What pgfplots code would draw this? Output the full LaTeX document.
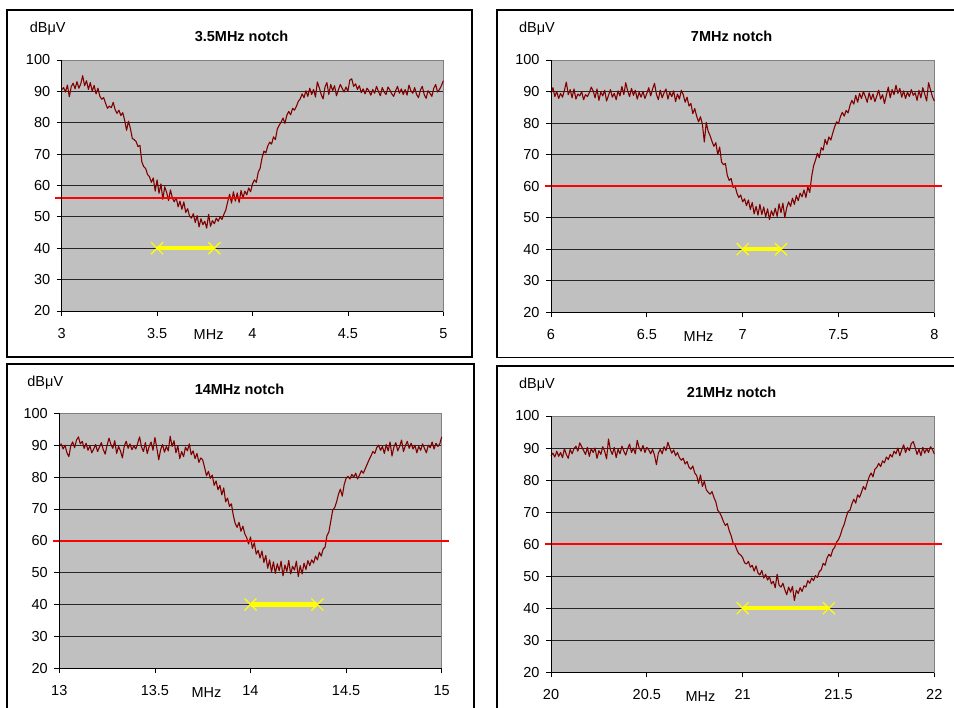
\documentclass[border=0pt]{standalone}
\usepackage{fontspec}
\setmainfont{Liberation Sans}
\usepackage{pgfplots}
\pgfplotsset{compat=1.18}
\usepackage{pgfplotstable}

\definecolor{plotgray}{HTML}{C0C0C0}
\definecolor{boxgray}{HTML}{808080}
\definecolor{maroon}{HTML}{800000}
\definecolor{notchred}{HTML}{FF0000}
\definecolor{bwyellow}{HTML}{FFFF00}

\newcommand{\lbl}{\fontsize{14.5}{17}\selectfont}

% spectrum analyser readings, MHz / dBuV
\pgfplotstableread{
x y
3.00 90.5
3.01 91.2
3.02 89.8
3.03 92.0
3.04 88.3
3.05 91.5
3.06 92.6
3.07 90.8
3.08 93.1
3.09 91.0
3.10 92.4
3.11 95.0
3.12 91.8
3.13 93.4
3.14 90.6
3.15 92.8
3.16 90.0
3.17 91.9
3.18 89.2
3.19 91.0
3.20 88.4
3.21 87.5
3.22 88.0
3.23 86.2
3.24 84.6
3.25 85.3
3.26 84.8
3.27 86.5
3.28 84.2
3.29 83.0
3.30 84.0
3.31 82.3
3.32 83.2
3.33 80.8
3.34 77.6
3.35 80.5
3.36 78.2
3.37 75.0
3.38 74.6
3.39 74.0
3.40 72.4
3.41 72.8
3.42 67.5
3.43 66.0
3.44 65.4
3.45 63.5
3.46 62.8
3.47 61.0
3.48 62.4
3.49 58.2
3.50 61.8
3.51 57.5
3.52 60.5
3.53 55.6
3.54 59.6
3.55 57.8
3.56 55.2
3.57 58.6
3.58 56.0
3.59 54.8
3.60 56.2
3.61 53.2
3.62 55.0
3.63 52.4
3.64 54.8
3.65 51.4
3.66 52.6
3.67 50.2
3.68 49.6
3.69 51.0
3.70 48.2
3.71 50.4
3.72 46.8
3.73 49.4
3.74 47.5
3.75 48.6
3.76 46.4
3.77 50.8
3.78 47.0
3.79 48.8
3.80 47.8
3.81 49.6
3.82 48.6
3.83 50.0
3.84 49.2
3.85 50.8
3.86 52.2
3.87 54.8
3.88 57.2
3.89 54.4
3.90 58.0
3.91 55.0
3.92 57.6
3.93 54.6
3.94 58.4
3.95 56.0
3.96 58.2
3.97 57.0
3.98 59.2
3.99 58.0
4.00 60.5
4.01 61.8
4.02 61.0
4.03 64.2
4.04 65.5
4.05 68.8
4.06 71.0
4.07 70.4
4.08 72.6
4.09 73.8
4.10 73.2
4.11 75.5
4.12 74.6
4.13 78.0
4.14 79.2
4.15 80.2
4.16 81.5
4.17 79.8
4.18 82.4
4.19 83.6
4.20 82.5
4.21 84.6
4.22 84.0
4.23 85.2
4.24 86.8
4.25 87.6
4.26 89.2
4.27 88.0
4.28 90.2
4.29 88.4
4.30 91.0
4.31 89.0
4.32 90.6
4.33 88.2
4.34 93.0
4.35 91.2
4.36 89.0
4.37 87.6
4.38 91.4
4.39 92.8
4.40 89.0
4.41 92.2
4.42 90.2
4.43 91.8
4.44 88.6
4.45 90.4
4.46 92.2
4.47 91.0
4.48 89.8
4.49 91.4
4.50 90.0
4.51 93.6
4.52 94.0
4.53 91.6
4.54 92.4
4.55 90.6
4.56 91.8
4.57 89.6
4.58 90.8
4.59 89.2
4.60 91.0
4.61 90.2
4.62 88.8
4.63 90.6
4.64 89.4
4.65 91.6
4.66 90.0
4.67 88.6
4.68 91.2
4.69 89.8
4.70 89.0
4.71 91.4
4.72 90.4
4.73 89.2
4.74 88.4
4.75 90.2
4.76 91.6
4.77 89.4
4.78 90.8
4.79 89.0
4.80 90.6
4.81 88.8
4.82 92.0
4.83 90.2
4.84 89.4
4.85 91.2
4.86 89.0
4.87 88.0
4.88 90.4
4.89 91.6
4.90 89.0
4.91 87.8
4.92 90.2
4.93 89.4
4.94 88.4
4.95 91.0
4.96 92.2
4.97 89.8
4.98 90.6
4.99 91.8
5.00 93.4
}\bandA

\pgfplotstableread{
x y
6.00 89.6
6.01 91.2
6.02 88.4
6.03 90.0
6.04 87.8
6.05 89.4
6.06 88.2
6.07 90.4
6.08 93.0
6.09 89.0
6.10 90.6
6.11 88.0
6.12 90.8
6.13 87.6
6.14 89.2
6.15 88.6
6.16 90.0
6.17 87.4
6.18 89.0
6.19 88.4
6.20 89.6
6.21 91.4
6.22 90.2
6.23 88.0
6.24 90.8
6.25 87.2
6.26 89.8
6.27 88.6
6.28 90.4
6.29 87.0
6.30 88.8
6.31 90.6
6.32 88.2
6.33 89.4
6.34 87.4
6.35 90.2
6.36 88.6
6.37 91.6
6.38 89.0
6.39 92.8
6.40 90.2
6.41 88.4
6.42 91.0
6.43 88.8
6.44 90.4
6.45 87.6
6.46 89.8
6.47 88.2
6.48 90.0
6.49 87.8
6.50 89.4
6.51 91.2
6.52 88.6
6.53 90.8
6.54 92.6
6.55 89.2
6.56 87.4
6.57 90.4
6.58 88.0
6.59 89.6
6.60 90.8
6.61 87.6
6.62 89.8
6.63 88.4
6.64 90.2
6.65 86.8
6.66 89.2
6.67 87.6
6.68 90.4
6.69 89.0
6.70 86.6
6.71 88.2
6.72 85.4
6.73 86.2
6.74 83.0
6.75 84.6
6.76 82.2
6.77 80.4
6.78 82.0
6.79 79.6
6.80 74.0
6.81 80.2
6.82 77.4
6.83 76.0
6.84 74.2
6.85 72.6
6.86 73.8
6.87 70.0
6.88 72.4
6.89 67.6
6.90 66.8
6.91 67.2
6.92 63.4
6.93 61.8
6.94 62.4
6.95 59.6
6.96 60.2
6.97 57.8
6.98 56.4
6.99 57.2
7.00 55.0
7.01 56.0
7.02 53.8
7.03 55.6
7.04 52.6
7.05 54.8
7.06 51.2
7.07 53.6
7.08 50.8
7.09 54.2
7.10 51.0
7.11 53.4
7.12 50.2
7.13 52.8
7.14 49.4
7.15 52.2
7.16 50.6
7.17 53.0
7.18 50.4
7.19 54.4
7.20 51.6
7.21 54.6
7.22 50.0
7.23 53.2
7.24 55.0
7.25 53.6
7.26 56.2
7.27 54.2
7.28 57.0
7.29 55.4
7.30 57.8
7.31 56.6
7.32 58.8
7.33 56.4
7.34 59.8
7.35 58.0
7.36 63.0
7.37 66.4
7.38 68.2
7.39 70.4
7.40 69.0
7.41 72.2
7.42 71.4
7.43 74.8
7.44 73.2
7.45 75.6
7.46 74.6
7.47 76.8
7.48 78.8
7.49 80.4
7.50 79.8
7.51 82.0
7.52 83.4
7.53 82.2
7.54 84.0
7.55 83.2
7.56 85.6
7.57 87.2
7.58 86.0
7.59 88.8
7.60 86.6
7.61 89.4
7.62 87.8
7.63 90.0
7.64 88.4
7.65 86.6
7.66 89.6
7.67 87.4
7.68 89.2
7.69 86.8
7.70 88.6
7.71 90.4
7.72 87.6
7.73 89.0
7.74 86.2
7.75 88.8
7.76 91.4
7.77 88.0
7.78 90.6
7.79 89.0
7.80 92.0
7.81 89.4
7.82 91.0
7.83 88.2
7.84 90.2
7.85 87.8
7.86 89.8
7.87 88.4
7.88 90.6
7.89 88.8
7.90 89.6
7.91 87.2
7.92 90.4
7.93 88.0
7.94 91.2
7.95 89.2
7.96 87.0
7.97 92.8
7.98 90.6
7.99 88.4
8.00 87.0
}\bandB

\pgfplotstableread{
x y
13.00 89.6
13.01 90.4
13.02 88.8
13.03 90.0
13.04 87.6
13.05 86.4
13.06 89.8
13.07 91.0
13.08 89.2
13.09 91.6
13.10 92.6
13.11 90.4
13.12 91.2
13.13 89.0
13.14 90.6
13.15 88.4
13.16 89.8
13.17 87.6
13.18 88.8
13.19 90.2
13.20 88.0
13.21 89.4
13.22 90.8
13.23 88.6
13.24 87.2
13.25 90.0
13.26 92.2
13.27 90.2
13.28 89.0
13.29 91.4
13.30 87.4
13.31 89.6
13.32 88.2
13.33 86.0
13.34 89.8
13.35 91.2
13.36 89.0
13.37 90.4
13.38 88.6
13.39 89.8
13.40 88.8
13.41 90.6
13.42 92.6
13.43 89.4
13.44 88.0
13.45 90.8
13.46 87.4
13.47 89.6
13.48 91.0
13.49 88.4
13.50 92.4
13.51 89.2
13.52 85.4
13.53 88.6
13.54 90.2
13.55 87.8
13.56 89.6
13.57 88.2
13.58 92.8
13.59 89.6
13.60 91.4
13.61 87.6
13.62 89.8
13.63 85.8
13.64 88.0
13.65 86.4
13.66 89.4
13.67 88.2
13.68 90.4
13.69 87.0
13.70 88.2
13.71 85.8
13.72 87.4
13.73 84.6
13.74 86.0
13.75 85.4
13.76 83.0
13.77 80.4
13.78 81.8
13.79 79.6
13.80 80.6
13.81 77.4
13.82 78.8
13.83 76.0
13.84 77.4
13.85 74.4
13.86 76.6
13.87 72.2
13.88 73.4
13.89 70.8
13.90 71.6
13.91 68.0
13.92 65.4
13.93 64.2
13.94 65.8
13.95 63.0
13.96 64.6
13.97 62.2
13.98 61.0
13.99 59.0
14.00 61.2
14.01 57.6
14.02 59.4
14.03 55.8
14.04 57.0
14.05 54.6
14.06 56.8
14.07 53.2
14.08 55.4
14.09 51.4
14.10 54.0
14.11 50.2
14.12 53.4
14.13 49.8
14.14 52.8
14.15 50.6
14.16 53.6
14.17 49.0
14.18 52.4
14.19 50.4
14.20 53.8
14.21 49.6
14.22 52.0
14.23 50.8
14.24 53.6
14.25 48.8
14.26 52.2
14.27 49.6
14.28 53.0
14.29 51.0
14.30 53.8
14.31 52.2
14.32 54.0
14.33 53.0
14.34 55.2
14.35 54.0
14.36 56.4
14.37 55.2
14.38 57.4
14.39 58.0
14.40 61.6
14.41 62.8
14.42 66.2
14.43 69.6
14.44 70.4
14.45 72.2
14.46 74.6
14.47 76.2
14.48 74.0
14.49 77.6
14.50 79.6
14.51 80.2
14.52 79.4
14.53 80.8
14.54 80.0
14.55 81.2
14.56 79.4
14.57 80.6
14.58 82.0
14.59 81.2
14.60 82.6
14.61 84.0
14.62 85.4
14.63 86.6
14.64 88.0
14.65 87.4
14.66 89.2
14.67 90.0
14.68 88.4
14.69 89.6
14.70 87.4
14.71 90.2
14.72 88.2
14.73 91.0
14.74 86.6
14.75 89.4
14.76 90.8
14.77 88.2
14.78 89.6
14.79 91.6
14.80 88.0
14.81 89.8
14.82 91.2
14.83 89.0
14.84 90.6
14.85 88.8
14.86 90.0
14.87 87.6
14.88 89.6
14.89 88.4
14.90 90.4
14.91 89.0
14.92 87.6
14.93 90.0
14.94 89.2
14.95 91.0
14.96 88.8
14.97 90.6
14.98 89.6
14.99 90.4
15.00 92.6
}\bandC

\pgfplotstableread{
x y
20.00 87.6
20.01 88.4
20.02 87.2
20.03 89.0
20.04 87.4
20.05 88.6
20.06 87.0
20.07 89.8
20.08 88.0
20.09 86.8
20.10 89.6
20.11 88.2
20.12 89.8
20.13 90.6
20.14 89.0
20.15 91.6
20.16 90.4
20.17 89.2
20.18 88.0
20.19 90.2
20.20 87.4
20.21 89.8
20.22 88.6
20.23 90.0
20.24 86.8
20.25 89.2
20.26 88.0
20.27 90.4
20.28 89.0
20.29 86.6
20.30 92.8
20.31 89.4
20.32 88.0
20.33 90.2
20.34 87.0
20.35 89.6
20.36 88.2
20.37 90.6
20.38 89.0
20.39 87.8
20.40 89.8
20.41 91.2
20.42 88.6
20.43 90.0
20.44 88.2
20.45 92.4
20.46 90.0
20.47 89.0
20.48 90.8
20.49 88.6
20.50 90.2
20.51 89.4
20.52 88.2
20.53 89.6
20.54 87.8
20.55 84.8
20.56 88.4
20.57 89.6
20.58 88.2
20.59 90.4
20.60 89.2
20.61 91.8
20.62 90.0
20.63 88.4
20.64 89.4
20.65 87.6
20.66 88.6
20.67 87.0
20.68 86.2
20.69 86.8
20.70 85.0
20.71 85.8
20.72 84.0
20.73 83.4
20.74 84.4
20.75 82.2
20.76 81.4
20.77 79.0
20.78 81.6
20.79 78.0
20.80 79.6
20.81 77.0
20.82 76.2
20.83 75.6
20.84 76.4
20.85 74.6
20.86 73.2
20.87 70.6
20.88 69.8
20.89 68.6
20.90 67.0
20.91 65.8
20.92 66.4
20.93 64.2
20.94 62.6
20.95 60.4
20.96 59.8
20.97 58.2
20.98 57.0
20.99 56.6
21.00 55.8
21.01 54.2
21.02 53.8
21.03 54.6
21.04 52.8
21.05 53.4
21.06 51.6
21.07 53.2
21.08 51.0
21.09 50.4
21.10 51.8
21.11 49.4
21.12 50.6
21.13 48.8
21.14 49.8
21.15 47.6
21.16 48.4
21.17 46.4
21.18 50.6
21.19 47.2
21.20 46.6
21.21 47.8
21.22 45.8
21.23 44.2
21.24 46.6
21.25 45.0
21.26 46.8
21.27 42.4
21.28 45.6
21.29 44.6
21.30 46.4
21.31 45.2
21.32 47.0
21.33 46.6
21.34 48.6
21.35 47.8
21.36 49.4
21.37 48.6
21.38 50.2
21.39 49.6
21.40 51.4
21.41 52.0
21.42 54.0
21.43 53.4
21.44 55.6
21.45 56.8
21.46 56.2
21.47 58.2
21.48 59.0
21.49 60.6
21.50 61.4
21.51 62.8
21.52 64.8
21.53 66.2
21.54 68.4
21.55 70.2
21.56 70.6
21.57 72.6
21.58 74.0
21.59 72.8
21.60 75.4
21.61 74.6
21.62 76.2
21.63 78.0
21.64 77.0
21.65 79.2
21.66 81.0
21.67 82.2
21.68 81.0
21.69 83.4
21.70 84.0
21.71 85.2
21.72 84.2
21.73 86.0
21.74 85.4
21.75 87.2
21.76 86.4
21.77 88.0
21.78 87.2
21.79 89.0
21.80 88.2
21.81 90.0
21.82 87.6
21.83 89.4
21.84 91.0
21.85 88.6
21.86 90.2
21.87 89.2
21.88 91.4
21.89 92.0
21.90 90.2
21.91 88.0
21.92 89.6
21.93 87.6
21.94 90.2
21.95 88.4
21.96 89.8
21.97 88.6
21.98 90.4
21.99 89.6
22.00 88.2
}\bandD

\pgfplotsset{
  notch/.style={
    scale only axis, anchor=south west, clip=false,
    ymin=20, ymax=100, ytick={20,30,...,100},
    ymajorgrids, grid style={black!85, line width=0.8pt},
    axis background/.style={fill=plotgray},
    axis line style={draw=boxgray, line width=0.8pt},
    tick align=outside, major tick length=5pt,
    tick style={black, line width=0.8pt},
    xtick pos=bottom, ytick pos=left,
    tick label style={font=\lbl},
    /pgf/number format/assume math mode=true,
    xticklabel shift=9pt, yticklabel shift=3pt,
  },
  spectrum/.style={maroon, line width=1.1pt, line join=round},
  level/.style={notchred, line width=2.5pt},
  bw/.style={bwyellow, line width=4.5pt, mark=x, mark size=8.5pt,
    mark options={line width=1.2pt}},
}

\newcommand{\decor}[2]{%
  \draw[black, line width=0.8pt] (rel axis cs:0,1) -- (rel axis cs:0,0) -- (rel axis cs:1,0);
  \node[font=\lbl\bfseries, xshift=-11pt, yshift=24pt] at (rel axis cs:0.5,1) {#1};
  \node[font=\lbl, xshift=-14pt, yshift=31pt] at (rel axis cs:0,1) {dBμV};
  \node[font=\lbl, yshift=-24pt] at (axis cs:#2,20) {MHz};
}

\begin{document}
\begin{tikzpicture}[x=1pt, y=1pt]
\path[use as bounding box] (0,0) rectangle (954,708);

% panel frames
\draw[line width=1.2pt] (7,698) rectangle (472,351);
\draw[line width=1.2pt] (960,698) -- (497,698) -- (497,350.5) -- (960,350.5);
\draw[line width=1.2pt] (7,-5) -- (7,344) -- (474,344) -- (474,-5);
\draw[line width=1.2pt] (960,342) -- (497,342) -- (497,-5);

\begin{axis}[notch, at={(61.7pt,397pt)}, width=381.6pt, height=251pt,
  xmin=3, xmax=5, xtick={3,3.5,...,5}]
  \addplot[spectrum] table {\bandA};
  \addplot[level] coordinates {(2.963,56) (5,56)};
  \addplot[bw] coordinates {(3.5,40) (3.8,40)};
  \decor{3.5MHz notch}{3.77}
\end{axis}

\begin{axis}[notch, at={(551pt,395.7pt)}, width=383.3pt, height=252.3pt,
  xmin=6, xmax=8, xtick={6,6.5,...,8}]
  \addplot[spectrum] table {\bandB};
  \addplot[level] coordinates {(5.969,60) (8.042,60)};
  \addplot[bw] coordinates {(7.0,40) (7.2,40)};
  \decor{7MHz notch}{6.77}
\end{axis}

\begin{axis}[notch, at={(59.3pt,39.7pt)}, width=382.4pt, height=255pt,
  xmin=13, xmax=15, xtick={13,13.5,...,15}]
  \addplot[spectrum] table {\bandC};
  \addplot[level] coordinates {(12.969,60) (15.038,60)};
  \addplot[bw] coordinates {(14.0,40) (14.35,40)};
  \decor{14MHz notch}{13.77}
\end{axis}

\begin{axis}[notch, at={(551pt,35.7pt)}, width=383.3pt, height=256.3pt,
  xmin=20, xmax=22, xtick={20,20.5,...,22}]
  \addplot[spectrum] table {\bandD};
  \addplot[level] coordinates {(19.969,60) (22.042,60)};
  \addplot[bw] coordinates {(21.0,40) (21.45,40)};
  \decor{21MHz notch}{20.78}
\end{axis}
\end{tikzpicture}
\end{document}
